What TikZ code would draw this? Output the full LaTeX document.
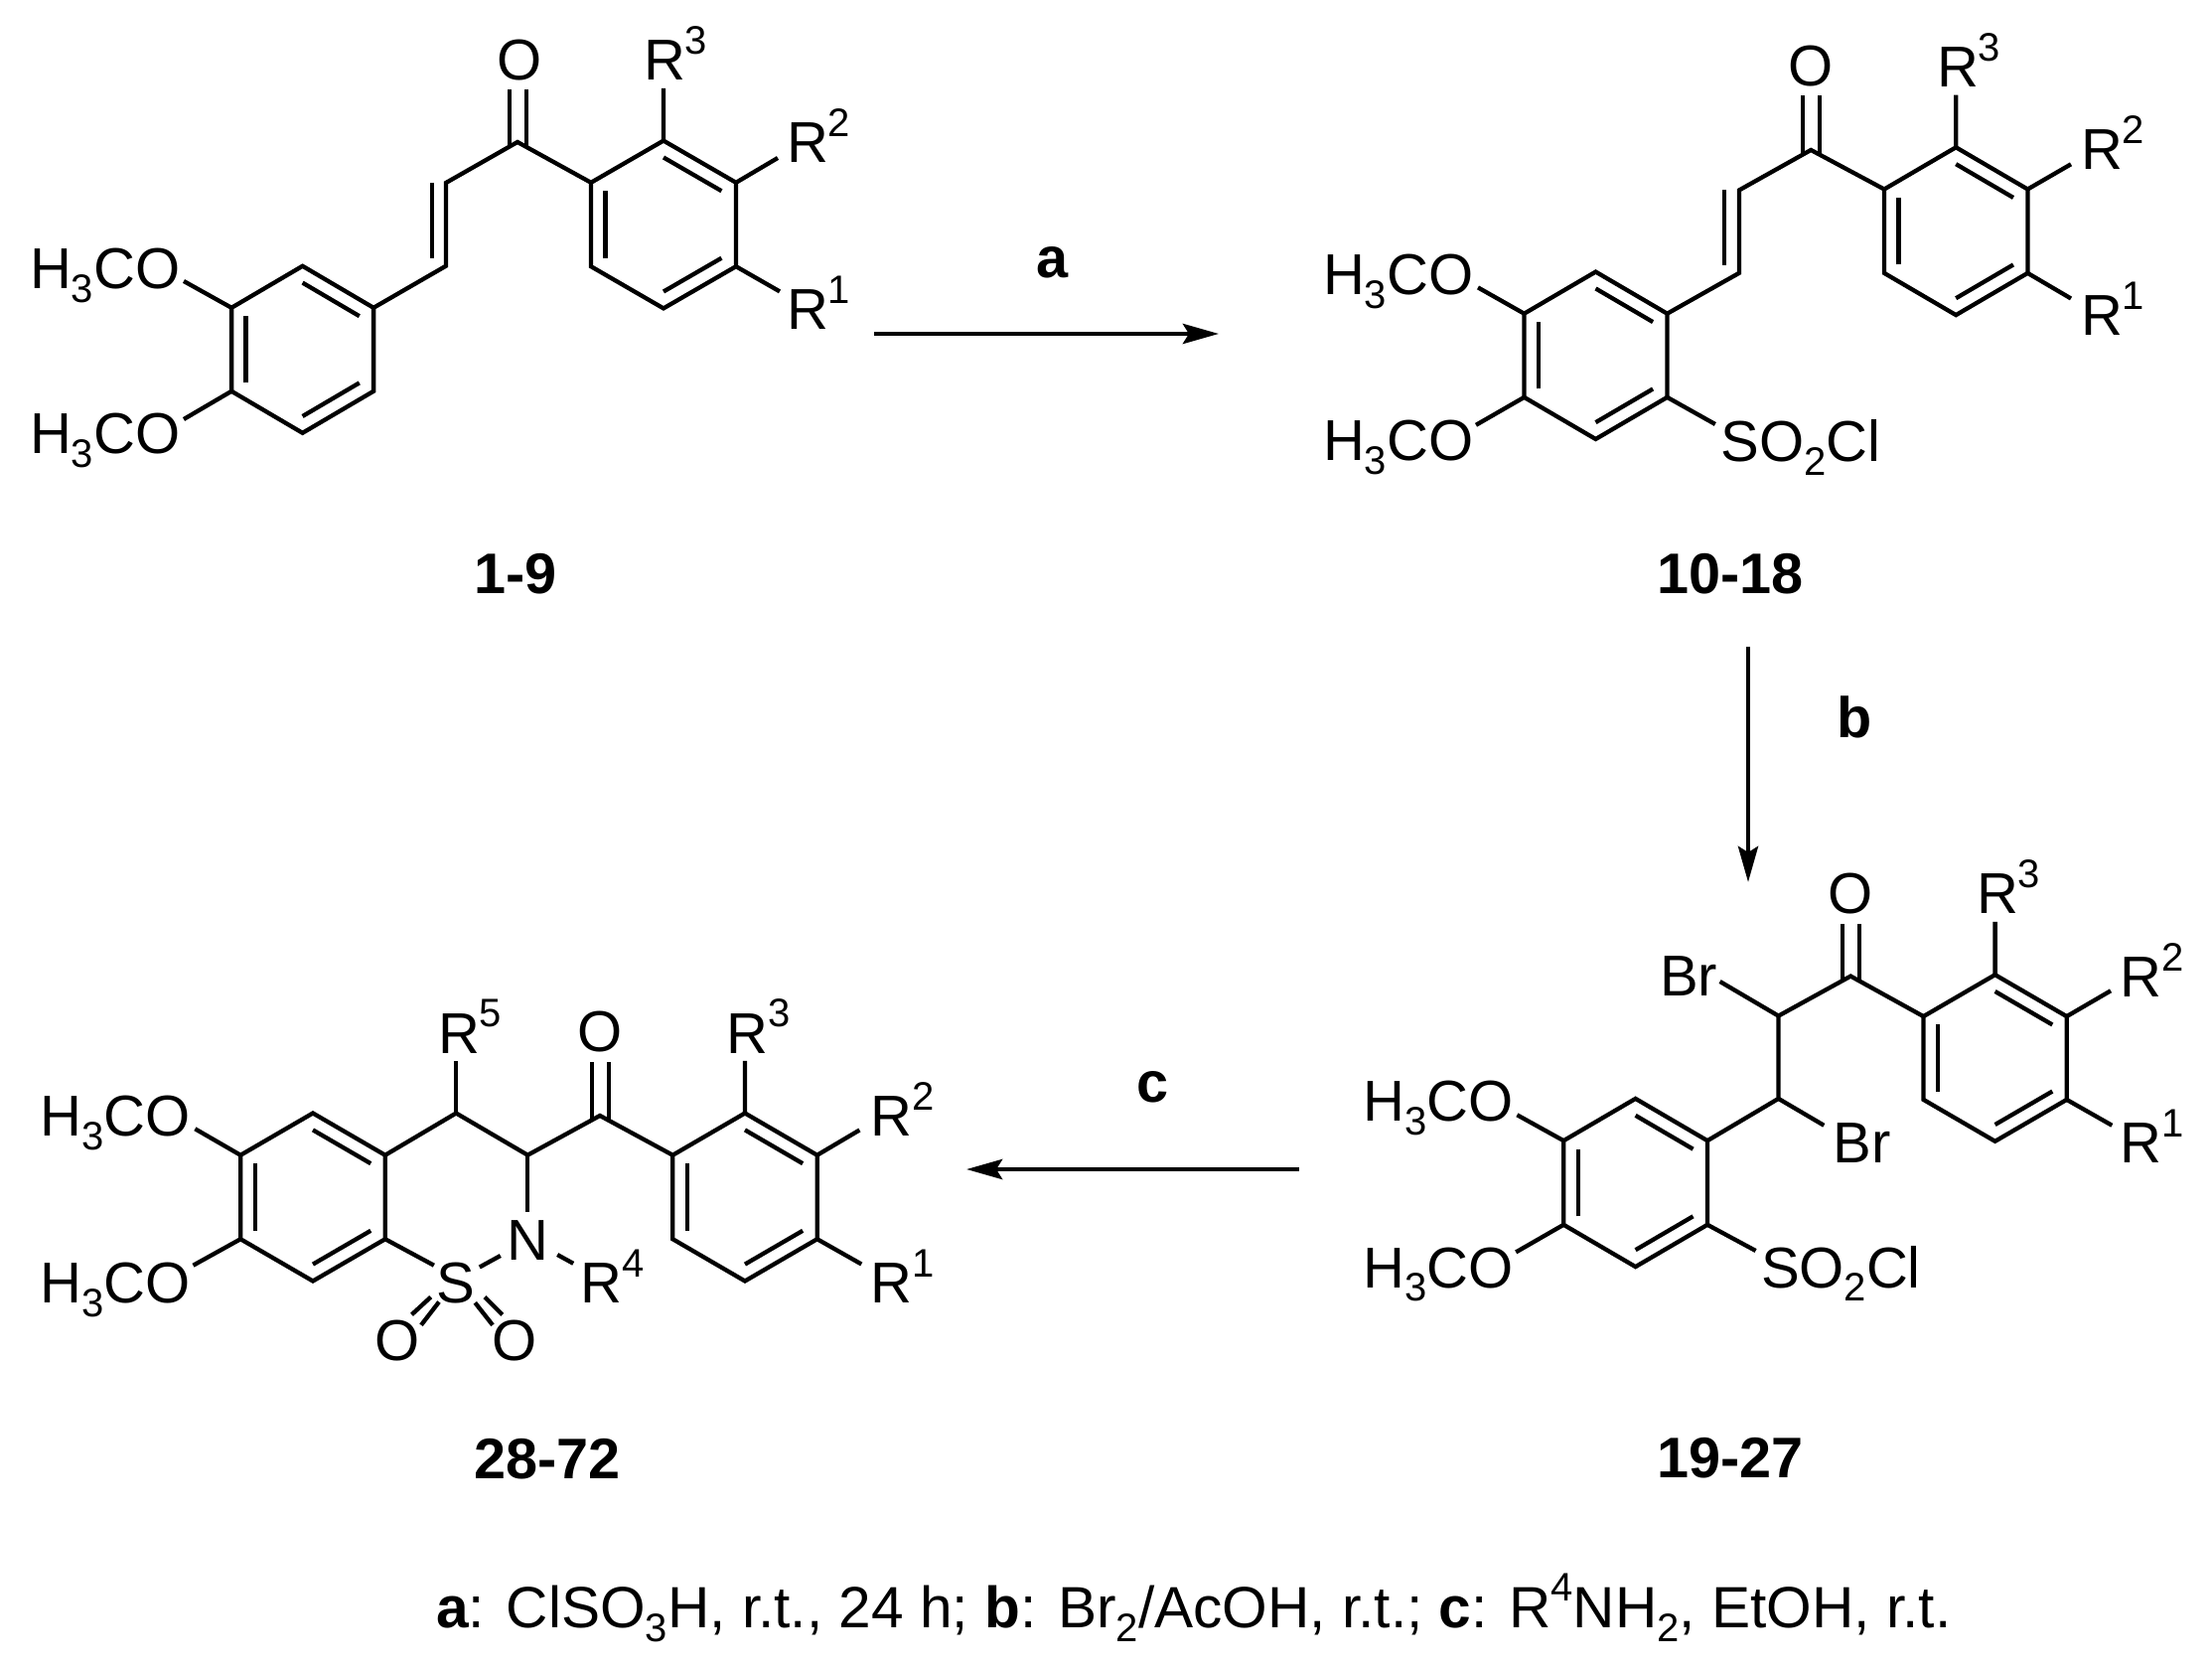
\documentclass[tikz,border=0pt]{standalone}
\usepackage{fontspec}
\setmainfont{Liberation Sans}
\usetikzlibrary{calc,arrows.meta}
\newcommand\lsup[1]{\raisebox{0.45em}{\fontsize{20}{22}\selectfont #1}}
\newcommand\lsub[1]{\raisebox{-0.24em}{\fontsize{20}{22}\selectfont #1}}
\tikzset{
  bondline/.style={line width=2.15pt,line join=miter,line cap=butt,black},
  lbl/.style={anchor=base west,inner sep=0pt,outer sep=0pt,font=\fontsize{29}{31}\selectfont},
  lblc/.style={lbl,anchor=base},
  cmpd/.style={lblc,font=\fontsize{28.8}{30}\selectfont\bfseries},
  rxn/.style={line width=2.4pt,black,-{Stealth[length=18pt,width=10pt,inset=3pt]}}
}
% hexagon with its three inner double-bond lines
\newcommand\hexring[5]{%
  \coordinate (#1o) at (#2,#3);
  \coordinate (#1a) at (#2,{#3-#5});
  \coordinate (#1b) at ({#2+#4},{#3-#5/2});
  \coordinate (#1c) at ({#2+#4},{#3+#5/2});
  \coordinate (#1d) at (#2,{#3+#5});
  \coordinate (#1e) at ({#2-#4},{#3+#5/2});
  \coordinate (#1f) at ({#2-#4},{#3-#5/2});
  \draw[bondline] (#1a)--(#1b)--(#1c)--(#1d)--(#1e)--(#1f)--cycle;
  \draw[bondline] ($(#1o)!0.8!(#1a)$)--($(#1o)!0.8!(#1b)$);
  \draw[bondline] ($(#1o)!0.8!(#1c)$)--($(#1o)!0.8!(#1d)$);
  \draw[bondline] ($(#1o)!0.8!(#1e)$)--($(#1o)!0.8!(#1f)$);
}
\begin{document}
\begin{tikzpicture}[x=0.5pt,y=-0.5pt]
\useasboundingbox (0,0) rectangle (2227,1679);
\fill[white] (0,0) rectangle (2227,1679);

%% ---------- compound 1-9
\hexring{pr}{668}{226}{73}{84.4}
\hexring{pl}{304.6}{351.8}{71.5}{84}
\coordinate (pco) at (521,143);
\coordinate (pv1) at (449,184);
\coordinate (pv2) at (449,267.7);
\coordinate (pvi1) at (435,184);
\coordinate (pvi2) at (435,260);
\coordinate (poA) at (513,90);
\coordinate (poB) at (530,90);
\coordinate (pcA) at (513,147.6);
\coordinate (pcB) at (530,147.6);
\coordinate (pm1) at (185,283);
\coordinate (pm2) at (185,422);
\coordinate (pr3e) at (668,89);
\coordinate (pr2e) at (783,159);
\coordinate (pr1e) at (785,293.4);
\draw[bondline] (plb)--(pv2)--(pv1)--(pco)--(prf);
\draw[bondline] (pvi1)--(pvi2);
\draw[bondline] (pcA)--(poA) (pcB)--(poB);
\draw[bondline] (plf)--(pm1) (ple)--(pm2);
\draw[bondline] (pra)--(pr3e) (prb)--(pr2e) (prc)--(pr1e);
\node[lblc] (pO) at (523,81) {O};
\node[lbl] (pR3) at (648,81) {R\lsup{3}};
\node[lbl] (pR2) at (792,164) {R\lsup{2}};
\node[lbl] (pR1) at (792,332) {R\lsup{1}};
\node[lbl] (pOa) at (30,290.6) {H\lsub{3}CO};
\node[lbl] (pOb) at (30,456.7) {H\lsub{3}CO};
\node[cmpd] (n19) at (519,597) {1-9};

%% ---------- compound 10-18
\hexring{qr}{1969.2}{232.7}{72.2}{84.4}
\hexring{ql}{1606.5}{357.8}{72}{84.2}
\coordinate (qco) at (1823.2,151);
\coordinate (qv1) at (1751,191.4);
\coordinate (qv2) at (1751,274.8);
\coordinate (qvi1) at (1736.3,191.4);
\coordinate (qvi2) at (1736.3,267);
\coordinate (qoA) at (1815,96);
\coordinate (qoB) at (1832,96);
\coordinate (qcA) at (1815,155.6);
\coordinate (qcB) at (1832,155.6);
\coordinate (qm1) at (1488,289.4);
\coordinate (qm2) at (1486,427.8);
\coordinate (qs) at (1726.8,427);
\coordinate (qr3e) at (1969.2,95.7);
\coordinate (qr2e) at (2085,165.3);
\coordinate (qr1e) at (2085,300.5);
\draw[bondline] (qlb)--(qv2)--(qv1)--(qco)--(qrf);
\draw[bondline] (qvi1)--(qvi2);
\draw[bondline] (qcA)--(qoA) (qcB)--(qoB);
\draw[bondline] (qlf)--(qm1) (qle)--(qm2) (qlc)--(qs);
\draw[bondline] (qra)--(qr3e) (qrb)--(qr2e) (qrc)--(qr1e);
\node[lblc] (qO) at (1823,87) {O};
\node[lbl] (qR3) at (1950,87.8) {R\lsup{3}};
\node[lbl] (qR2) at (2095,170.8) {R\lsup{2}};
\node[lbl] (qR1) at (2095,338) {R\lsup{1}};
\node[lbl] (qOa) at (1332,296.6) {H\lsub{3}CO};
\node[lbl] (qOb) at (1332,463.4) {H\lsub{3}CO};
\node[lbl] (qSO) at (1732.5,464.6) {SO\lsub{2}Cl};
\node[cmpd] (n1018) at (1742,597) {10-18};

%% ---------- compound 19-27
\hexring{sr}{2008.6}{1065}{72.1}{83.8}
\hexring{sl}{1646.6}{1190.5}{72.4}{84.6}
\coordinate (sco) at (1863.2,982.6);
\coordinate (sc1) at (1790.5,1022.6);
\coordinate (sc2) at (1790.5,1105.9);
\coordinate (soA) at (1855,930);
\coordinate (soB) at (1872,930);
\coordinate (scA) at (1855,987.2);
\coordinate (scB) at (1872,987.2);
\coordinate (sbr1) at (1731.6,988);
\coordinate (sbr2) at (1836.3,1132.8);
\coordinate (sm1) at (1527.4,1122.3);
\coordinate (sm2) at (1526.2,1260.4);
\coordinate (ss) at (1767.6,1259);
\coordinate (sr3e) at (2008.6,927.9);
\coordinate (sr2e) at (2125,997.3);
\coordinate (sr1e) at (2126.3,1132.8);
\draw[bondline] (slb)--(sc2)--(sc1)--(sco)--(srf);
\draw[bondline] (sc1)--(sbr1) (sc2)--(sbr2);
\draw[bondline] (scA)--(soA) (scB)--(soB);
\draw[bondline] (slf)--(sm1) (sle)--(sm2) (slc)--(ss);
\draw[bondline] (sra)--(sr3e) (srb)--(sr2e) (src)--(sr1e);
\node[lblc] (sO) at (1863,919.4) {O};
\node[lbl] (sBr1) at (1671,1002.4) {Br};
\node[lbl] (sBr2) at (1845.7,1170.7) {Br};
\node[lbl] (sR3) at (1990,919.4) {R\lsup{3}};
\node[lbl] (sR2) at (2134.6,1003.6) {R\lsup{2}};
\node[lbl] (sR1) at (2134.6,1170.7) {R\lsup{1}};
\node[lbl] (sOa) at (1372.3,1128.6) {H\lsub{3}CO};
\node[lbl] (sOb) at (1372.3,1296) {H\lsub{3}CO};
\node[lbl] (sSO) at (1773,1296) {SO\lsub{2}Cl};
\node[cmpd] (n1927) at (1742,1487.6) {19-27};

%% ---------- compound 28-72
\hexring{tr}{750}{1205}{72.7}{84.5}
\hexring{tl}{315}{1205}{72.8}{84.5}
\coordinate (tco) at (604,1123);
\coordinate (tcn) at (531.3,1162.7);
\coordinate (tcr) at (459.2,1120.5);
\coordinate (tn) at (531.3,1219.8);
\coordinate (tr5e) at (459.2,1067.9);
\coordinate (toA) at (596,1068.6);
\coordinate (toB) at (613,1068.6);
\coordinate (tcA) at (596,1127.6);
\coordinate (tcB) at (613,1127.6);
\coordinate (tm1) at (196.4,1136.3);
\coordinate (tm2) at (194.5,1273.7);
\coordinate (ts) at (436.9,1273.7);
\coordinate (tsn1) at (482.8,1275.5);
\coordinate (tsn2) at (503.8,1264);
\coordinate (tnr1) at (561.2,1263);
\coordinate (tnr2) at (577.2,1271.8);
\coordinate (tlA1) at (433.7,1305.6);
\coordinate (tlA2) at (414.5,1323.3);
\coordinate (tlB1) at (442,1310.5);
\coordinate (tlB2) at (424,1333.8);
\coordinate (trA1) at (478.3,1311.3);
\coordinate (trA2) at (496,1333.8);
\coordinate (trB1) at (487.9,1305.6);
\coordinate (trB2) at (505.7,1323.3);
\coordinate (tr3e) at (750,1067.9);
\coordinate (tr2e) at (865.4,1137.5);
\coordinate (tr1e) at (867.3,1272.5);
\draw[bondline] (tlb)--(tcr)--(tcn)--(tco)--(trf);
\draw[bondline] (tcr)--(tr5e) (tcn)--(tn);
\draw[bondline] (tcA)--(toA) (tcB)--(toB);
\draw[bondline] (tlf)--(tm1) (tle)--(tm2) (tlc)--(ts);
\draw[bondline] (tsn1)--(tsn2) (tnr1)--(tnr2);
\draw[bondline] (tlA1)--(tlA2) (tlB1)--(tlB2) (trA1)--(trA2) (trB1)--(trB2);
\draw[bondline] (tra)--(tr3e) (trb)--(tr2e) (trc)--(tr1e);
\node[lblc] (tO) at (604,1058) {O};
\node[lblc] (tN) at (531,1268.8) {N};
\node[lblc] (tS) at (459,1311) {S};
\node[lblc] (tO1) at (400.5,1369.6) {O};
\node[lblc] (tO2) at (518.5,1369.6) {O};
\node[lbl] (tR5) at (441,1060) {R\lsup{5}};
\node[lbl] (tR4) at (584.7,1311.3) {R\lsup{4}};
\node[lbl] (tR3) at (731.4,1060) {R\lsup{3}};
\node[lbl] (tR2) at (876.8,1143.9) {R\lsup{2}};
\node[lbl] (tR1) at (876.8,1311.3) {R\lsup{1}};
\node[lbl] (tOa) at (40.5,1143.9) {H\lsub{3}CO};
\node[lbl] (tOb) at (40.5,1311.3) {H\lsub{3}CO};
\node[cmpd] (n2872) at (551,1488) {28-72};

%% ---------- reaction arrows
\coordinate (aS) at (880,336);
\coordinate (aE) at (1227,336);
\coordinate (bS) at (1760,651);
\coordinate (bE) at (1760,888);
\coordinate (cS) at (1307.7,1177);
\coordinate (cE) at (973,1177);
\draw[rxn] (aS)--(aE);
\draw[rxn] (bS)--(bE);
\draw[rxn] (cS)--(cE);
\node[cmpd] (la) at (1060,280) {a};
\node[cmpd] (lb) at (1866.7,742.7) {b};
\node[cmpd] (lc) at (1160.7,1109) {c};

%% ---------- footnote
\node[lbl,font=\fontsize{29.3}{31}\selectfont] (foot) at (439,1638.3) {\textbf{a}: ClSO\lsub{3}H, r.t., 24 h; \textbf{b}: Br\lsub{2}/AcOH, r.t.; \textbf{c}: R\lsup{4}NH\lsub{2}, EtOH, r.t.};
\end{tikzpicture}
\end{document}
